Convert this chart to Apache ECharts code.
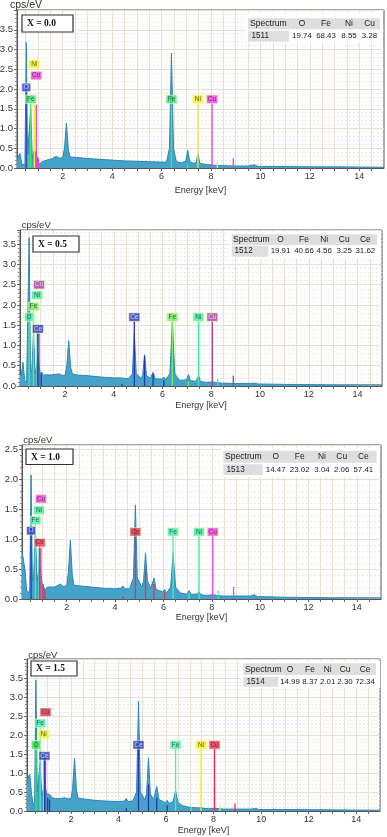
<!DOCTYPE html>
<html><head><meta charset="utf-8">
<script src="https://cdn.jsdelivr.net/npm/echarts@6/dist/echarts.min.js"></script>
<style>html,body{margin:0;padding:0;background:#fff}#c{width:387px;height:837px}</style>
</head><body><div id="c"></div>
<script>
// ---------------- DATA ----------------
const energyTickLabels = [2, 4, 6, 8, 10, 12, 14];
const energyMinorTicks = [0.5,1,1.5,2,2.5,3,3.5,4,4.5,5,5.5,6,6.5,7,7.5,8,8.5,9,9.5,10,10.5,11,11.5,12,12.5,13,13.5,14,14.5];
const sampleNames = ["X = 0.0", "X = 0.5", "X = 1.0", "X = 1.5"];
const spectrumIds = ["1511", "1512", "1513", "1514"];
const tableCols_x00 = ["O", "Fe", "Ni", "Cu"];
const tableCols_ce = ["O", "Fe", "Ni", "Cu", "Ce"];
const wt_x00 = [19.74, 68.43, 8.55, 3.28];
const wt_x05 = [19.91, 40.66, 4.56, 3.25, 31.62];
const wt_x10 = [14.47, 23.02, 3.04, 2.06, 57.41];
const wt_x15 = [14.99, 8.37, 2.01, 2.30, 72.34];

// spectra: [energy keV, cps/eV]
const spec_x00 = [[0.15,0.22],[0.2,0.18],[0.27,0.37],[0.34,0.1],[0.42,0.05],[0.47,0.08],[0.525,3.18],[0.58,0.35],[0.63,0.3],[0.705,1.5],[0.77,0.25],[0.85,0.45],[0.9,0.35],[0.93,0.42],[0.98,0.2],[1.05,0.1],[1.1,0.12],[1.2,0.17],[1.35,0.2],[1.5,0.22],[1.6,0.25],[1.74,0.3],[1.85,0.25],[2.0,0.26],[2.07,0.5],[2.15,1.13],[2.23,0.45],[2.3,0.28],[2.5,0.27],[3.0,0.24],[3.5,0.22],[4.0,0.2],[4.5,0.18],[5.0,0.17],[5.5,0.16],[6.0,0.15],[6.2,0.15],[6.32,0.5],[6.4,2.91],[6.48,0.5],[6.6,0.16],[6.8,0.13],[6.98,0.18],[7.06,0.45],[7.14,0.16],[7.3,0.12],[7.4,0.14],[7.47,0.36],[7.55,0.12],[7.8,0.09],[7.96,0.08],[8.04,0.13],[8.12,0.07],[8.4,0.06],[9.0,0.05],[9.5,0.05],[9.65,0.07],[9.75,0.08],[9.9,0.04],[10.5,0.04],[12,0.03],[13,0.03],[15,0.02]];
const spec_x05 = [[0.15,0.3],[0.2,0.25],[0.27,0.59],[0.34,0.15],[0.42,0.08],[0.47,0.12],[0.525,3.66],[0.58,0.4],[0.63,0.35],[0.705,1.3],[0.77,0.3],[0.85,0.55],[0.88,0.8],[0.93,0.5],[0.98,0.3],[1.05,0.35],[1.1,0.25],[1.2,0.28],[1.35,0.27],[1.5,0.28],[1.74,0.3],[1.85,0.27],[2.0,0.26],[2.07,0.5],[2.15,1.12],[2.23,0.45],[2.3,0.3],[2.5,0.27],[3.0,0.25],[3.5,0.22],[4.0,0.2],[4.3,0.2],[4.6,0.18],[4.76,0.3],[4.84,1.29],[4.92,0.3],[5.1,0.2],[5.18,0.25],[5.26,0.77],[5.34,0.25],[5.5,0.2],[5.61,0.34],[5.7,0.18],[5.97,0.17],[6.05,0.22],[6.13,0.16],[6.3,0.3],[6.4,1.57],[6.5,0.3],[6.7,0.14],[6.98,0.15],[7.06,0.28],[7.14,0.13],[7.38,0.12],[7.47,0.25],[7.56,0.11],[7.8,0.09],[8.04,0.1],[8.4,0.07],[9.0,0.06],[9.6,0.06],[9.75,0.07],[9.9,0.05],[11,0.04],[13,0.03],[15,0.03]];
const spec_x10 = [[0.15,0.8],[0.2,0.78],[0.27,0.5],[0.34,0.15],[0.42,0.1],[0.47,0.15],[0.525,2.07],[0.58,0.3],[0.63,0.35],[0.705,1.15],[0.77,0.3],[0.85,0.5],[0.88,0.8],[0.93,0.45],[0.98,0.25],[1.05,0.2],[1.1,0.15],[1.2,0.2],[1.35,0.2],[1.5,0.2],[1.74,0.25],[1.85,0.21],[2.0,0.22],[2.07,0.45],[2.15,0.98],[2.23,0.4],[2.3,0.23],[2.5,0.22],[3.0,0.2],[3.5,0.18],[4.0,0.17],[4.25,0.18],[4.32,0.22],[4.4,0.17],[4.6,0.17],[4.76,0.35],[4.84,1.57],[4.92,0.35],[5.1,0.2],[5.18,0.3],[5.26,0.77],[5.34,0.3],[5.48,0.18],[5.61,0.35],[5.7,0.16],[5.97,0.12],[6.05,0.16],[6.13,0.1],[6.3,0.2],[6.4,0.76],[6.5,0.2],[6.7,0.1],[6.98,0.08],[7.06,0.14],[7.14,0.08],[7.38,0.08],[7.47,0.12],[7.56,0.07],[7.8,0.06],[8.04,0.07],[8.4,0.05],[9.0,0.05],[9.6,0.05],[9.75,0.07],[9.9,0.04],[11,0.03],[13,0.02],[15,0.02]];
const spec_x15 = [[0.15,0.7],[0.2,0.9],[0.27,0.96],[0.34,0.45],[0.42,0.15],[0.47,0.25],[0.525,3.44],[0.58,0.5],[0.63,0.45],[0.705,1.3],[0.77,0.4],[0.85,0.6],[0.88,1.37],[0.93,0.6],[0.98,0.45],[1.05,0.4],[1.1,0.44],[1.2,0.35],[1.35,0.33],[1.5,0.32],[1.74,0.35],[1.85,0.32],[2.0,0.32],[2.07,0.6],[2.15,1.38],[2.23,0.55],[2.3,0.34],[2.5,0.32],[3.0,0.28],[3.5,0.26],[4.0,0.25],[4.25,0.26],[4.32,0.33],[4.4,0.25],[4.6,0.26],[4.76,0.5],[4.84,2.89],[4.92,0.5],[5.1,0.3],[5.18,0.45],[5.26,1.4],[5.34,0.45],[5.48,0.3],[5.61,0.65],[5.7,0.3],[5.97,0.22],[6.05,0.28],[6.13,0.2],[6.3,0.25],[6.4,0.54],[6.5,0.22],[6.7,0.14],[6.98,0.1],[7.06,0.13],[7.14,0.09],[7.38,0.08],[7.47,0.1],[7.56,0.07],[7.8,0.06],[8.04,0.07],[8.4,0.05],[9.0,0.05],[9.6,0.05],[9.75,0.07],[9.9,0.04],[11,0.04],[13,0.03],[15,0.02]];

// labelled element lines: [element, energy keV]
const lines_x00 = [["O",0.525],["Fe",0.705],["Ni",0.851],["Cu",0.93],["Fe",6.40],["Ni",7.47],["Cu",8.04]];
const lines_x05 = [["Cu",0.93],["Ni",0.851],["Fe",0.705],["O",0.525],["Ce",0.883],["Ce",4.84],["Fe",6.40],["Ni",7.47],["Cu",8.04]];
const lines_x10 = [["Cu",0.93],["Ni",0.851],["Fe",0.705],["O",0.525],["Ce",0.883],["Ce",4.84],["Fe",6.40],["Ni",7.47],["Cu",8.04]];
const lines_x15 = [["Cu",0.93],["Fe",0.705],["Ni",0.851],["O",0.525],["Ce",0.883],["Ce",4.84],["Fe",6.40],["Ni",7.47],["Cu",8.04]];
// unlabelled minor lines: [element, energy keV, height cps/eV]
const minor_x00 = [["Fe",0.628,0.35],["Cu",1.02,0.25],["Fe",7.06,0.12],["Ni",8.26,0.18],["Cu",8.90,0.25]];
const minor_x05 = [["Ce",1.02,0.3],["Ce",5.26,0.75],["Ce",5.61,0.3],["Ce",6.05,0.15],["Ce",4.33,0.05],["Fe",7.06,0.12],["Ni",8.26,0.18],["Cu",8.90,0.25]];
const minor_x10 = [["Ce",1.02,0.25],["Ce",1.1,0.15],["Ce",5.26,0.5],["Ce",5.61,0.25],["Ce",6.05,0.12],["Ce",4.33,0.05],["Fe",7.06,0.1],["Ni",8.26,0.15],["Cu",8.90,0.2]];
const minor_x15 = [["Ce",1.02,0.35],["Ce",1.1,0.3],["Ce",5.26,0.7],["Ce",5.61,0.35],["Ce",6.05,0.15],["Ce",4.33,0.08],["Fe",7.06,0.12],["Ni",8.26,0.15],["Cu",8.90,0.2]];

// ---------------- LAYOUT / STYLE ----------------
const panels = [
 {spec:spec_x00, lines:lines_x00, minor:minor_x00, cols:tableCols_x00, wt:wt_x00,
  grid:{left:17,top:10,width:367,height:158}, ymax:4.0, nameGap:18,
  labelY:[[2.04,1.95],[1.74,1.65],[2.63,1.6],[2.34,1.6],[1.74,1.65],[1.74,1.65],[1.74,1.65]],
  colors:{O:'#3446d0',Fe:'#3ee87a',Ni:'#f5f020',Cu:'#f03ce0'},
  xbox:[22,15,51,17], cps:[10,5,10.5],
  table:{box:[246,13,137,30], head:[248,18.3,132,11], idCell:[248,30.7,41,11], x0:250, centers:[302,326,349,369.5], rows:[23.8,36.2]}},
 {spec:spec_x05, lines:lines_x05, minor:minor_x05, cols:tableCols_ce, wt:wt_x05,
  grid:{left:20,top:230,width:362,height:156}, ymax:3.85, nameGap:15,
  labelY:[[2.50,1.3],[2.24,1.35],[1.96,1.85],[1.70,1.6],[1.41,1.3],[1.70,1.6],[1.70,1.6],[1.70,1.6],[1.70,1.6]],
  colors:{O:'#3cf0a8',Fe:'#6ef05a',Ni:'#40f0a0',Cu:'#a8409c',Ce:'#2536b0'},
  xbox:[33,236,46,16], cps:[21.7,225,9.5],
  table:{box:[229,232,152,27], head:[231.7,234.3,145.6,10.7], idCell:[231.7,245.7,36.6,11], x0:233, centers:[280.5,304,324.2,344.2,365.3], rows:[239.7,251.2]}},
 {spec:spec_x10, lines:lines_x10, minor:minor_x10, cols:tableCols_ce, wt:wt_x10,
  grid:{left:22,top:445,width:359,height:154}, ymax:2.57, nameGap:14,
  labelY:[[1.67,0.85],[1.48,0.85],[1.31,1.25],[1.14,1.08],[0.94,0.88],[1.12,1.06],[1.12,1.06],[1.12,1.06],[1.12,1.06]],
  colors:{O:'#2838c8',Fe:'#40f0b0',Ni:'#40f0a0',Cu:'#f040e0',Ce:'#e83048'},
  xbox:[26,449,47,15.5], cps:[23.3,440.7,9.5],
  table:{box:[221,448,159,29], head:[223.3,450.7,153.4,12], idCell:[223.3,464.3,39.4,10.7], x0:225, centers:[275.7,299.7,322,341.7,363.3], rows:[456.7,469.7]}},
 {spec:spec_x15, lines:lines_x15, minor:minor_x15, cols:tableCols_ce, wt:wt_x15,
  grid:{left:27,top:659,width:353,height:152}, ymax:4.0, nameGap:15,
  labelY:[[2.60,1.4],[2.31,2.2],[2.02,1.4],[1.74,1.65],[1.45,1.38],[1.74,1.65],[1.74,1.65],[1.74,1.65],[1.74,1.65]],
  colors:{O:'#30e850',Fe:'#40f0b8',Ni:'#f5f020',Cu:'#e82858',Ce:'#2536b0'},
  xbox:[31,661,46,15], cps:[28.3,655,9.5],
  table:{box:[241,661,139,27], head:[243.3,663.3,132.7,11.7], idCell:[243.3,676.7,35,10], x0:245, centers:[290,310,327.7,345,365], rows:[669.2,681.7]}}
];
const darkBoxes = ['#3446d0','#2838c8','#2536b0','#a8409c'];
const FONT = '"Liberation Sans", Arial, sans-serif';

const option = {animation:false, backgroundColor:'#fff', grid:[], xAxis:[], yAxis:[], series:[], graphic:[]};

panels.forEach((p, i) => {
  option.grid.push(Object.assign({show:true, borderColor:'#555', borderWidth:1, backgroundColor:'#fff', outerBoundsMode:'none', containLabel:false}, p.grid));
  option.xAxis.push({
    gridIndex:i, type:'value', min:0.15, max:15,
    name:'Energy [keV]', nameLocation:'middle', nameGap:p.nameGap,
    nameTextStyle:{fontSize:9, color:'#333', fontFamily:FONT},
    axisLine:{show:true, onZero:false, lineStyle:{color:'#555'}},
    axisTick:{show:true, customValues:energyMinorTicks, length:3, lineStyle:{color:'#666'}},
    axisLabel:{customValues:energyTickLabels, fontSize:9, color:'#333', margin:4, fontFamily:FONT},
    splitLine:{show:true, lineStyle:{color:'#e6e1d7', width:1}}
  });
  option.yAxis.push({
    gridIndex:i, type:'value', min:0, max:p.ymax, interval:0.5,
    axisLine:{show:true, lineStyle:{color:'#555'}},
    axisTick:{show:true, length:3, lineStyle:{color:'#666'}},
    minorTick:{show:true, splitNumber:5, length:2, lineStyle:{color:'#888'}},
    axisLabel:{fontSize:9.5, color:'#333', margin:4, fontFamily:FONT, showMaxLabel:false, formatter:v=>v.toFixed(1)},
    splitLine:{show:true, lineStyle:{color:'#e6e1d7', width:1}},
    minorSplitLine:{show:true, lineStyle:{color:'#ece8e1', width:1, type:[2,2]}}
  });
  // spectrum
  option.series.push({
    type:'line', xAxisIndex:i, yAxisIndex:i, data:p.spec, symbol:'none', smooth:false,
    lineStyle:{color:'#2f88b4', width:1}, areaStyle:{color:'#45a2c9', opacity:1}, z:2, silent:true
  });
  // vertical element lines
  const lineData = [];
  p.lines.forEach((l, k) => lineData.push({value:[l[1], p.labelY[k][1]], itemStyle:{color:p.colors[l[0]]}}));
  p.minor.forEach(m => lineData.push({value:[m[1], m[2]], itemStyle:{color:p.colors[m[0]]}}));
  option.series.push({
    type:'custom', xAxisIndex:i, yAxisIndex:i, data:lineData, z:4, silent:true,
    renderItem:(params, api) => {
      const a = api.coord([api.value(0), 0]);
      const b = api.coord([api.value(0), api.value(1)]);
      return {type:'line', shape:{x1:a[0], y1:a[1], x2:b[0], y2:b[1]}, style:{stroke:api.visual('color'), lineWidth:1.3}};
    }
  });
  // label boxes
  option.series.push({
    type:'scatter', xAxisIndex:i, yAxisIndex:i, z:6, silent:true, symbol:'rect',
    symbolSize:(v, prm) => [prm.name.length > 1 ? 11 : 9, 8.5],
    data:p.lines.map((l, k) => {
      const c = p.colors[l[0]];
      return {name:l[0], value:[l[1], p.labelY[k][0]],
        itemStyle:{color:c, borderColor:'rgba(255,255,190,0.9)', borderWidth:0.8},
        label:{color: darkBoxes.includes(c) ? '#e8e8ff' : '#333'}};
    }),
    label:{show:true, position:'inside', formatter:'{b}', fontSize:6.5, fontFamily:FONT}
  });
  // table
  const t = p.table;
  option.graphic.push({type:'rect', shape:{x:t.box[0], y:t.box[1], width:t.box[2], height:t.box[3]}, style:{fill:'#fff'}, z:100});
  option.graphic.push({type:'rect', shape:{x:t.head[0], y:t.head[1], width:t.head[2], height:t.head[3]}, style:{fill:'#dedede'}, z:101});
  option.graphic.push({type:'rect', shape:{x:t.idCell[0], y:t.idCell[1], width:t.idCell[2], height:t.idCell[3]}, style:{fill:'#dedede'}, z:101});
  const ts = (text, x, y, align, fs) => ({type:'text', x:x, y:y, z:102,
    style:{text:text, fill:'#222', fontSize:fs, fontFamily:FONT, align:align, verticalAlign:'middle'}});
  option.graphic.push(ts('Spectrum', t.x0, t.rows[0], 'left', 8.6));
  option.graphic.push(ts(spectrumIds[i], t.x0 + 1.5, t.rows[1], 'left', 8.2));
  p.cols.forEach((c, k) => {
    option.graphic.push(ts(c, t.centers[k], t.rows[0], 'center', 8.4));
    option.graphic.push(ts(p.wt[k].toFixed(2), t.centers[k], t.rows[1], 'center', 7.9));
  });
  // sample box
  const b = p.xbox;
  option.graphic.push({type:'rect', shape:{x:b[0], y:b[1], width:b[2], height:b[3]}, style:{fill:'#fff', stroke:'#333', lineWidth:1.2}, z:100});
  option.graphic.push({type:'text', x:b[0] + 5, y:b[1] + b[3] / 2 + 0.5, z:101,
    style:{text:sampleNames[i], fill:'#111', fontSize:9.5, fontWeight:'bold', fontFamily:'"Liberation Serif", "Times New Roman", serif', align:'left', verticalAlign:'middle'}});
  // y axis unit
  option.graphic.push({type:'text', x:p.cps[0], y:p.cps[1], z:101,
    style:{text:'cps/eV', fill:'#333', fontSize:p.cps[2], fontFamily:FONT, align:'left', verticalAlign:'middle'}});
});

const chart = echarts.init(document.getElementById('c'), null, {renderer:'canvas'});
chart.setOption(option);
</script></body></html>
